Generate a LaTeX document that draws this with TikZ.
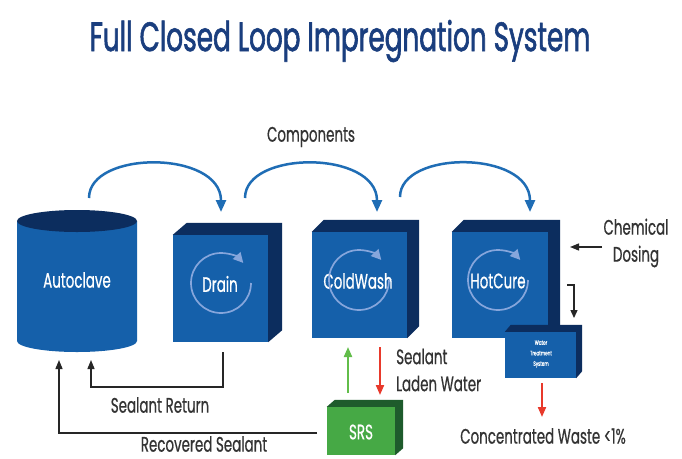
\documentclass[tikz,border=0pt]{standalone}
\usepackage{fontspec}
\setmainfont{Poppins}[FakeStretch=0.64, FakeBold=0.6]
\newfontfamily\titlefont{Poppins}[FakeStretch=0.64, FakeBold=1.4]
\usetikzlibrary{arrows.meta}
\definecolor{boxblue}{HTML}{1560AA}
\definecolor{boxdark}{HTML}{0C2D5E}
\definecolor{arcblue}{HTML}{1F6DB5}
\definecolor{circblue}{HTML}{86A6DC}
\definecolor{titleblue}{HTML}{1A3E7E}
\definecolor{txtgray}{HTML}{333333}
\definecolor{srsgreen}{HTML}{46A945}
\definecolor{srsdark}{HTML}{1E5B2C}
\definecolor{arrred}{HTML}{E8392B}
\definecolor{arrgreen}{HTML}{62BD4A}
\newcommand\boxsides[4]{%
  \fill[#4] (#1.north west) -- ++(#2,-#3) -- ([shift={(#2,-#3)}]#1.north east)
    -- ([shift={(#2,-#3)}]#1.south east) -- (#1.south east) -- (#1.north east) -- cycle;}
\begin{document}
\begin{tikzpicture}[x=1pt,y=-1pt,
  face/.style={fill=boxblue, draw=none, inner sep=0pt},
  boxlabel/.style={text=white, font=\fontsize{21}{24}\selectfont, inner sep=0pt},
  lbl/.style={text=txtgray, font=\fontsize{21}{27}\selectfont, inner sep=0pt},
  bluearc/.style={draw=arcblue, line width=2.5pt, -{Triangle[length=12pt,width=10pt]}},
  circarrow/.style={draw=circblue, line width=1.7pt, -{Triangle[length=10pt,width=10pt]}},
  blackarrow/.style={draw=black!85, line width=1.4pt, -{Triangle[length=9pt,width=7pt]}},
  redarrow/.style={draw=arrred, line width=2pt, -{Triangle[length=10pt,width=8pt]}},
  greenarrow/.style={draw=arrgreen, line width=2pt, -{Triangle[length=10pt,width=8pt]}}]
\useasboundingbox (0,0) rectangle (682,458);
\fill[white] (0,0) rectangle (682,458);

% title
\node[text=titleblue, font=\titlefont\fontsize{41}{44}\selectfont, inner sep=0pt] (title) at (340,41) {Full Closed Loop Impregnation System};
\node[lbl] (components) at (311,137) {Components};

% autoclave cylinder
\fill[boxblue] (17,221) -- (17,341) arc[start angle=180, end angle=0, x radius=60, y radius=11] -- (137,221) -- cycle;
\fill[boxdark] (77,221) ellipse[x radius=60, y radius=11];
\node[boxlabel] (autoclave) at (77,280) {Autoclave};

% drain
\node[face, minimum width=95pt, minimum height=107pt] (drain) at (220.5,288.5) {};
\boxsides{drain}{14}{12}{boxdark}
\node[boxlabel] (draintxt) at (220,284) {Drain};
\draw[circarrow] (251,283) arc[start angle=0, end angle=318, radius=30];

% coldwash
\node[face, minimum width=95pt, minimum height=106pt] (coldwash) at (359.5,285) {};
\boxsides{coldwash}{12}{12}{boxdark}
\node[boxlabel] (coldtxt) at (358,281) {ColdWash};
\draw[circarrow] (389,280) arc[start angle=0, end angle=318, radius=30];

% hotcure
\node[face, minimum width=96pt, minimum height=106pt] (hotcure) at (500,285) {};
\boxsides{hotcure}{12}{12}{boxdark}
\node[boxlabel] (hottxt) at (498,281) {HotCure};
\draw[circarrow] (528,280) arc[start angle=0, end angle=318, radius=30];

% water treatment system
\node[face, minimum width=71pt, minimum height=46pt] (wts) at (540.5,355) {};
\boxsides{wts}{6}{7}{boxdark}
\node[text=white, font=\fontsize{6.5}{10.5}\selectfont, align=center, inner sep=0pt] (wtstxt) at (541,354) {Water\\Treatment\\System};

% SRS
\node[fill=srsgreen, draw=none, inner sep=0pt, minimum width=68pt, minimum height=48pt] (srs) at (361,431) {};
\boxsides{srs}{8}{7}{srsdark}
\node[boxlabel] (srstxt) at (361,432) {SRS};

% component transfer arcs
\draw[bluearc] (89,198) .. controls (89,150) and (221,150) .. (221,212);
\draw[bluearc] (245,198) .. controls (245,150) and (377,150) .. (377,212);
\draw[bluearc] (400,197) .. controls (400,150) and (530,150) .. (530,212);

% sealant return
\coordinate (dr0) at (223,352);
\coordinate (ac1) at (91,360);
\draw[blackarrow] (dr0) -- (223,387) -- (91,387) -- (ac1);
\node[lbl] (sealret) at (160,405) {Sealant Return};

% recovered sealant
\coordinate (srs0) at (317,433);
\coordinate (ac2) at (59,360);
\draw[blackarrow] (srs0) -- (59,433) -- (ac2);
\node[lbl] (recsealant) at (204,444) {Recovered Sealant};

% SRS <-> ColdWash
\coordinate (g0) at (348,393);
\coordinate (g1) at (348,347);
\draw[greenarrow] (g0) -- (g1);
\coordinate (r0) at (380,347);
\coordinate (r1) at (380,395);
\draw[redarrow] (r0) -- (r1);
\node[lbl, align=left, anchor=west] (laden) at (396,370) {Sealant\\Laden Water};

% chemical dosing
\node[lbl, align=center] (chem) at (636,243) {Chemical\\Dosing};
\coordinate (ch0) at (602,247);
\coordinate (ch1) at (570,247);
\draw[blackarrow] (ch0) -- (ch1);

% hotcure to WTS
\coordinate (hw0) at (567,285);
\coordinate (hw1) at (574,318);
\draw[draw=black!85, line width=1.4pt, -{Triangle[length=8pt,width=7pt]}] (hw0) -- (574,285) -- (hw1);

% waste
\coordinate (w0) at (542,383);
\coordinate (w1) at (542,417);
\draw[redarrow] (w0) -- (w1);
\node[lbl] (waste) at (543,436) {Concentrated Waste <1\%};
\end{tikzpicture}
\end{document}
